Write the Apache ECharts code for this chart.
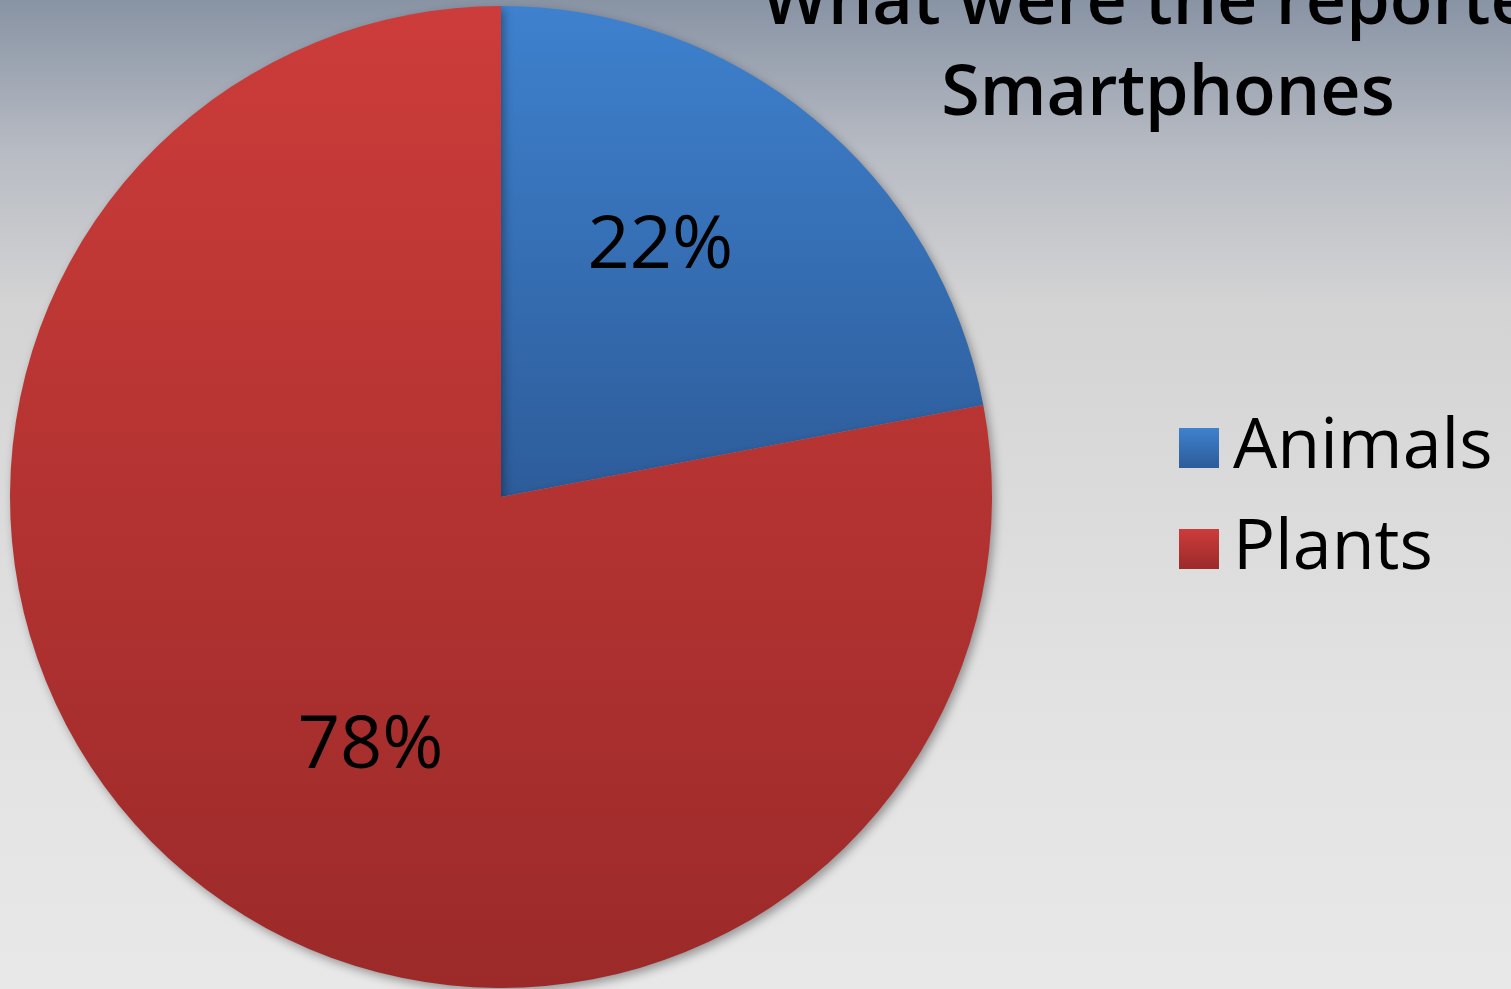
<!DOCTYPE html>
<html>
<head>
<meta charset="utf-8">
<script src="https://cdn.jsdelivr.net/npm/echarts@6/dist/echarts.min.js"></script>
<style>
html,body{margin:0;padding:0;width:1511px;height:989px;overflow:hidden;}
body{background:linear-gradient(to bottom,#8893a4 0px,#b7bbc3 150px,#d3d3d4 300px,#d9d9d9 450px,#e2e2e2 700px,#e8e8e8 989px);}
#chart{width:1511px;height:989px;}
</style>
</head>
<body>
<div id="chart"></div>
<script>
const titleLines = ["What were the reported", "Smartphones"];
const categories = ["Animals", "Plants"];
const values = [22, 78];
const topColors = ["#3e81ce", "#cc3c3a"];
const bottomColors = ["#2d5c9a", "#9b2a29"];

const chart = echarts.init(document.getElementById('chart'), null, {renderer: 'canvas'});
const fontFamily = "'Open Sans', 'DejaVu Sans', sans-serif";

const data = categories.map((name, i) => ({
  name: name,
  value: values[i],
  itemStyle: {
    color: new echarts.graphic.LinearGradient(0, 0, 0, 1, [
      {offset: 0, color: topColors[i]},
      {offset: 1, color: bottomColors[i]}
    ])
  }
}));

const labelShift = [[1, -59], [28, 58]];

chart.setOption({
  backgroundColor: 'transparent',
  animation: false,
  title: {
    text: titleLines.join('\n'),
    left: 1163,
    top: -46,
    textAlign: 'center',
    textStyle: {
      fontFamily: fontFamily,
      fontSize: 70,
      fontWeight: 600,
      color: '#000',
      lineHeight: 91
    }
  },
  legend: {
    orient: 'vertical',
    left: 1179,
    top: 413,
    padding: 0,
    itemWidth: 40,
    itemHeight: 40,
    itemGap: 31,
    icon: 'rect',
    data: categories,
    textStyle: {
      fontFamily: fontFamily,
      fontSize: 70,
      color: '#000',
      padding: [0, 0, 0, 9]
    }
  },
  series: [{
    type: 'pie',
    center: [501, 497],
    radius: 491,
    startAngle: 90,
    clockwise: true,
    data: data,
    itemStyle: {
      shadowBlur: 10,
      shadowOffsetX: 3,
      shadowOffsetY: 4,
      shadowColor: 'rgba(0,0,0,0.35)'
    },
    label: {
      show: true,
      position: 'inner',
      formatter: '{c}%',
      fontFamily: fontFamily,
      fontSize: 74,
      color: '#000'
    },
    labelLine: {show: false},
    labelLayout: function (params) {
      const s = labelShift[params.dataIndex];
      return {dx: s[0], dy: s[1]};
    }
  }]
});
</script>
</body>
</html>
